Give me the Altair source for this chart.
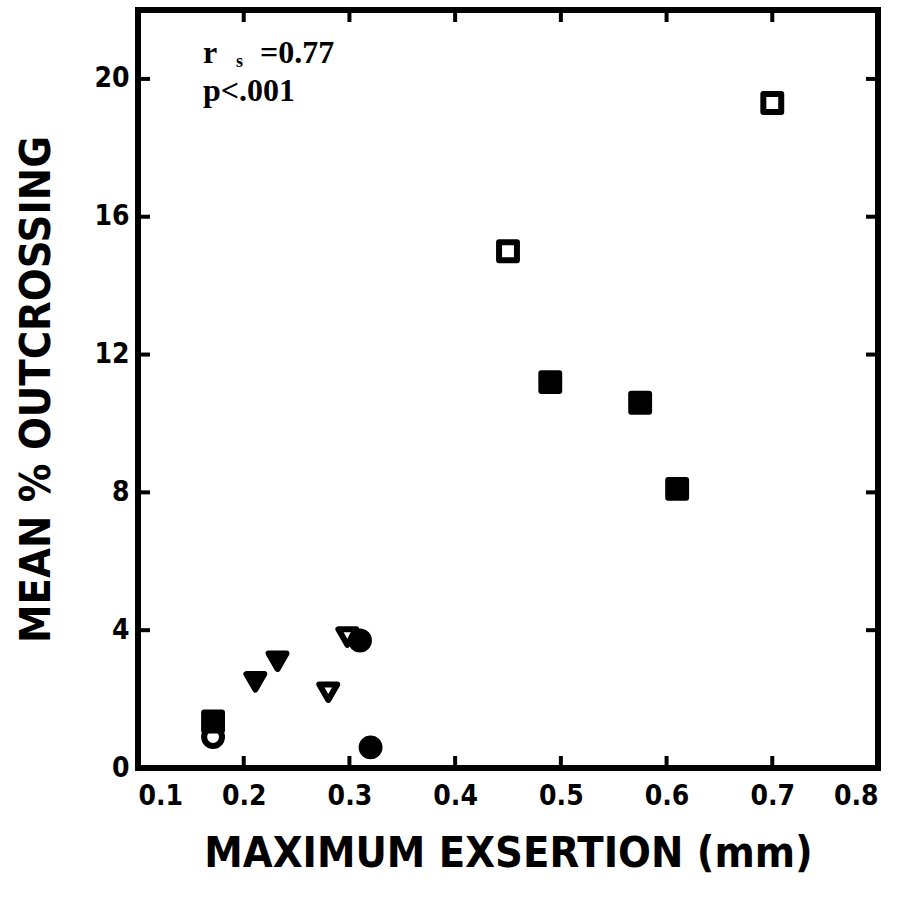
import altair as alt
import pandas as pd

# Data
x_vals = [0.70, 0.45, 0.49, 0.575, 0.61, 0.298, 0.31, 0.232, 0.211, 0.28, 0.171, 0.171, 0.32]
y_vals = [19.3, 15.0, 11.2, 10.6, 8.1, 3.8, 3.7, 3.1, 2.5, 2.2, 1.35, 0.9, 0.6]
shapes = ["square", "square", "square", "square", "square", "triangle", "circle",
          "triangle", "triangle", "triangle", "square", "circle", "circle"]
fills = ["open", "open", "filled", "filled", "filled", "open", "filled",
         "filled", "filled", "open", "filled", "open", "filled"]

x_ticks = [0.1, 0.2, 0.3, 0.4, 0.5, 0.6, 0.7, 0.8]
y_ticks = [0, 4, 8, 12, 16, 20]
x_inner = [0.2, 0.3, 0.4, 0.5, 0.6, 0.7]
y_inner = [4, 8, 12, 16, 20]

W, H = 740, 758

df = pd.DataFrame({"x": x_vals, "y": y_vals, "shape": shapes, "fill": fills})
xt = pd.DataFrame({"v": x_inner})
yt = pd.DataFrame({"v": y_inner})

xscale = alt.Scale(domain=[0.1, 0.8], nice=False, zero=False)
yscale = alt.Scale(domain=[0, 22], nice=False, zero=False)

x_enc = alt.X("x:Q", scale=xscale,
              axis=alt.Axis(values=x_ticks, format=".1f", title="MAXIMUM EXSERTION (mm)"))
y_enc = alt.Y("y:Q", scale=yscale,
              axis=alt.Axis(values=y_ticks, format="d", title="MEAN % OUTCROSSING"))

points = alt.Chart(df).mark_point(strokeWidth=6, opacity=1, size=320, strokeJoin="round").encode(
    x=x_enc,
    y=y_enc,
    shape=alt.Shape("shape:N", scale=alt.Scale(domain=["square", "circle", "triangle"],
                                               range=["square", "circle", "triangle-down"]), legend=None),
    fill=alt.Fill("fill:N", scale=alt.Scale(domain=["filled", "open"], range=["black", "transparent"]), legend=None),
    stroke=alt.value("black"),
)

tick_style = dict(color="black", strokeWidth=4)
bottom_ticks = alt.Chart(xt).mark_rule(**tick_style).encode(
    x=alt.X("v:Q", scale=xscale), y=alt.value(H), y2=alt.value(H - 12))
top_ticks = alt.Chart(xt).mark_rule(**tick_style).encode(
    x=alt.X("v:Q", scale=xscale), y=alt.value(0), y2=alt.value(12))
left_ticks = alt.Chart(yt).mark_rule(**tick_style).encode(
    y=alt.Y("v:Q", scale=yscale), x=alt.value(0), x2=alt.value(12))
right_ticks = alt.Chart(yt).mark_rule(**tick_style).encode(
    y=alt.Y("v:Q", scale=yscale), x=alt.value(W), x2=alt.value(W - 12))

ann_font = "Liberation Serif"
ann_r = alt.Chart(pd.DataFrame({"t": ["r"]})).mark_text(
    font=ann_font, fontWeight="bold", fontSize=32, align="left", baseline="alphabetic", color="black"
).encode(text="t:N", x=alt.value(65), y=alt.value(53))
ann_s = alt.Chart(pd.DataFrame({"t": ["s"]})).mark_text(
    font=ann_font, fontWeight="bold", fontSize=18, align="left", baseline="alphabetic", color="black"
).encode(text="t:N", x=alt.value(98), y=alt.value(57))
ann_val = alt.Chart(pd.DataFrame({"t": ["=0.77"]})).mark_text(
    font=ann_font, fontWeight="bold", fontSize=32, align="left", baseline="alphabetic", color="black"
).encode(text="t:N", x=alt.value(122), y=alt.value(53))
ann_p = alt.Chart(pd.DataFrame({"t": ["p<.001"]})).mark_text(
    font=ann_font, fontWeight="bold", fontSize=32, align="left", baseline="alphabetic", color="black"
).encode(text="t:N", x=alt.value(65), y=alt.value(91))

chart = alt.layer(
    points, bottom_ticks, top_ticks, left_ticks, right_ticks, ann_r, ann_s, ann_val, ann_p
).properties(
    width=W, height=H,
    autosize=alt.AutoSizeParams(type="none"),
    padding={"left": 138, "top": 10, "right": 27, "bottom": 137},
    background="white",
).configure_view(
    stroke="black", strokeWidth=6,
).configure_axis(
    grid=False, ticks=False, domain=False,
    labelFont="DejaVu Sans Condensed, DejaVu Sans", labelFontWeight="bold", labelFontSize=28,
    labelColor="black",
    titleFont="DejaVu Sans Condensed, DejaVu Sans", titleFontWeight="bold", titleFontSize=43,
    titleColor="black",
).configure_axisX(
    labelPadding=14, titlePadding=22,
).configure_axisY(
    labelPadding=9, titlePadding=35,
)

chart.save("out.html", embed_options={"renderer": "svg", "actions": False})
